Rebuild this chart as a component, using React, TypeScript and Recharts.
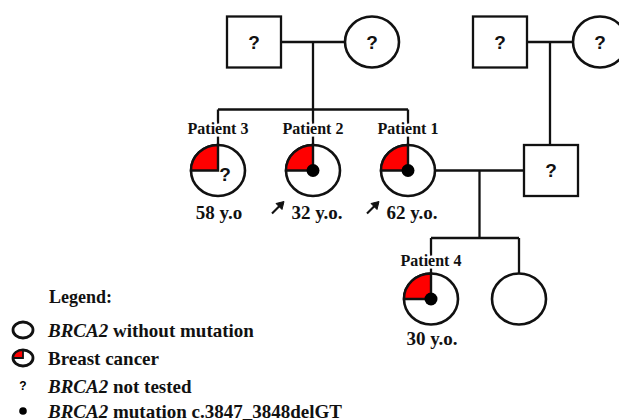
// Pedigree of a BRCA2 family drawn with a scatter chart
import { ScatterChart, Scatter, XAxis, YAxis, ReferenceLine } from 'recharts';

const WIDTH = 619;
const HEIGHT = 420;
const FONT = '"Liberation Serif", "Times New Roman", serif';
const MARK_FONT = '"Liberation Sans", Arial, sans-serif';

// individuals of the pedigree
const ids = ['gf1', 'gm1', 'p3', 'p2', 'p1', 'gf2', 'gm2', 'husband', 'p4', 'sister'];
const names = ['', '', 'Patient 3', 'Patient 2', 'Patient 1', '', '', '', 'Patient 4', ''];
const sexes = ['M', 'F', 'F', 'F', 'F', 'M', 'F', 'M', 'F', 'F'];
const columns = [25.4, 37.2, 21.8, 31.3, 40.8, 50.0, 60.0, 55.1, 43.1, 51.9];
const generations = [0, 0, 1, 1, 1, 0, 0, 1, 2, 2];
const cancer = [false, false, true, true, true, false, false, false, true, false];
const mutation = [false, false, false, true, true, false, false, false, true, false];
const tested = [false, false, false, true, true, false, false, false, true, true];
const ages = ['', '', '58 y.o', '32 y.o.', '62 y.o.', '', '', '', '30 y.o.', ''];
const proband = [false, false, false, true, true, false, false, false, false, false];

// couples and their children
const couples = [['gf1', 'gm1'], ['gf2', 'gm2'], ['p1', 'husband']];
const children = [['p3', 'p2', 'p1'], ['husband'], ['p4', 'sister']];

// legend entries
const legendKeys = ['normal', 'cancer', 'untested', 'mutation'];
const legendItalic = ['BRCA2', '', 'BRCA2', 'BRCA2'];
const legendText = [' without mutation', 'Breast cancer', ' not tested', ' mutation c.3847_3848delGT'];

// px per unit of the two axes
const COL_PX = 10;
const ROW_PX = 128.5;
const TOP_PX = 42;
const RX = 27;
const RY = 25.5;
const SIB_GAP = 61;

const people = ids.map((id, i) => ({
    id,
    name: names[i],
    sex: sexes[i],
    x: columns[i],
    gen: generations[i],
    cancer: cancer[i],
    mutation: mutation[i],
    tested: tested[i],
    age: ages[i],
    proband: proband[i],
}));
const byId = (id: string) => people.find(p => p.id === id)!;

// connector segments in axis units
const segments: { x: number; y: number }[][] = [];
couples.forEach(([a, b], ci) => {
    const pa = byId(a);
    const pb = byId(b);
    const left = pa.x < pb.x ? pa : pb;
    const right = pa.x < pb.x ? pb : pa;
    segments.push([
        { x: left.x + RX / COL_PX, y: left.gen },
        { x: right.x - RX / COL_PX, y: right.gen },
    ]);
    const mid = (left.x + right.x) / 2;
    const kids = children[ci].map(byId);
    const kidGen = kids[0].gen;
    const kidTop = kidGen - RY / ROW_PX;
    if (kids.length === 1) {
        segments.push([{ x: mid, y: left.gen }, { x: mid, y: kidTop }]);
        return;
    }
    const sibY = kidGen - SIB_GAP / ROW_PX;
    segments.push([{ x: mid, y: left.gen }, { x: mid, y: sibY }]);
    const xs = kids.map(k => k.x);
    segments.push([{ x: Math.min(...xs), y: sibY }, { x: Math.max(...xs), y: sibY }]);
    kids.forEach(k => segments.push([{ x: k.x, y: sibY }, { x: k.x, y: kidTop }]));
});

function Symbol(props: any) {
    const { cx, cy, payload } = props;
    const p = payload;
    const gap = p.gen === 2 ? 39 : 42;
    return (
        <g>
            {p.sex === 'M' ? (
                <rect x={cx - RX} y={cy - RY} width={RX * 2} height={RY * 2} fill="#fff" stroke="#111" strokeWidth={2.3} />
            ) : (
                <ellipse cx={cx} cy={cy} rx={RX} ry={RY} fill="#fff" stroke="#111" strokeWidth={2.6} />
            )}
            {p.cancer && (
                <path
                    d={`M${cx},${cy} L${cx - RX},${cy} A${RX},${RY} 0 0 1 ${cx},${cy - RY} Z`}
                    fill="#ff0000"
                    stroke="#111"
                    strokeWidth={2.4}
                />
            )}
            {p.mutation && <circle cx={cx} cy={cy} r={6.5} fill="#000" />}
            {!p.tested && (
                <text
                    x={p.cancer ? cx + 7 : cx}
                    y={p.cancer ? cy + 4 : cy}
                    textAnchor="middle"
                    dominantBaseline="central"
                    fontFamily={MARK_FONT}
                    fontWeight="bold"
                    fontSize={19}
                    fill="#111"
                >
                    ?
                </text>
            )}
            {p.name && (
                <text
                    x={cx}
                    y={cy - gap}
                    textAnchor="middle"
                    dominantBaseline="central"
                    fontFamily={FONT}
                    fontWeight="bold"
                    fontSize={16}
                    fill="#111"
                    stroke="#fff"
                    strokeWidth={5}
                    paintOrder="stroke"
                >
                    {p.name}
                </text>
            )}
            {p.age && (
                <text
                    x={p.proband ? cx + 4 : cx + 1}
                    y={cy + gap}
                    textAnchor="middle"
                    dominantBaseline="central"
                    fontFamily={FONT}
                    fontWeight="bold"
                    fontSize={19}
                    fill="#111"
                >
                    {p.age}
                </text>
            )}
            {p.proband && (
                <g stroke="#111" strokeWidth={2.2} fill="#111">
                    <line x1={cx - 41} y1={cy + 43} x2={cx - 32} y2={cy + 34} />
                    <path d={`M${cx - 29},${cy + 31} L${cx - 37},${cy + 33} L${cx - 31},${cy + 39} Z`} strokeWidth={1} />
                </g>
            )}
        </g>
    );
}

function LegendIcon({ kind }: { kind: string }) {
    if (kind === 'normal' || kind === 'cancer') {
        return (
            <g>
                <ellipse cx={23} cy={0} rx={10} ry={8} fill="#fff" stroke="#111" strokeWidth={2.8} />
                {kind === 'cancer' && (
                    <path d="M23,0 L13,0 A10,8 0 0 1 23,-8 Z" fill="#ff0000" stroke="#111" strokeWidth={1.8} />
                )}
            </g>
        );
    }
    if (kind === 'untested') {
        return (
            <text x={23} y={0} textAnchor="middle" dominantBaseline="central" fontFamily={MARK_FONT} fontWeight="bold" fontSize={12}>
                ?
            </text>
        );
    }
    return <circle cx={23} cy={0} r={3.8} fill="#000" />;
}

const legendRows = [330, 358, 386, 411];

function PedigreeLegend() {
    return (
        <svg width={380} height={150} style={{ position: 'absolute', left: 0, top: 280 }}>
            <g transform="translate(0,-280)">
                <text x={49} y={297} dominantBaseline="central" fontFamily={FONT} fontWeight="bold" fontSize={18} fill="#111">
                    Legend:
                </text>
                {legendKeys.map((k, i) => (
                    <g key={k} transform={`translate(0,${legendRows[i]})`}>
                        <LegendIcon kind={k} />
                        <text x={48} y={0} dominantBaseline="central" fontFamily={FONT} fontWeight="bold" fontSize={19} fill="#111">
                            {legendItalic[i] && <tspan fontStyle="italic">{legendItalic[i]}</tspan>}
                            {legendText[i]}
                        </text>
                    </g>
                ))}
            </g>
        </svg>
    );
}

export default function App() {
    return (
        <div style={{ position: 'absolute', left: 0, top: 0, width: WIDTH, height: HEIGHT, background: '#fff' }}>
            <ScatterChart width={WIDTH} height={HEIGHT} margin={{ top: 0, right: 0, bottom: 0, left: 0 }}>
                <XAxis type="number" dataKey="x" domain={[0, WIDTH / COL_PX]} hide allowDataOverflow />
                <YAxis
                    type="number"
                    dataKey="gen"
                    domain={[-TOP_PX / ROW_PX, (HEIGHT - TOP_PX) / ROW_PX]}
                    reversed
                    hide
                    allowDataOverflow
                />
                {segments.map((s, i) => (
                    <ReferenceLine key={i} segment={s} stroke="#111" strokeWidth={2.3} ifOverflow="visible" />
                ))}
                <Scatter data={people} shape={Symbol} isAnimationActive={false} />
            </ScatterChart>
            <PedigreeLegend />
        </div>
    );
}
